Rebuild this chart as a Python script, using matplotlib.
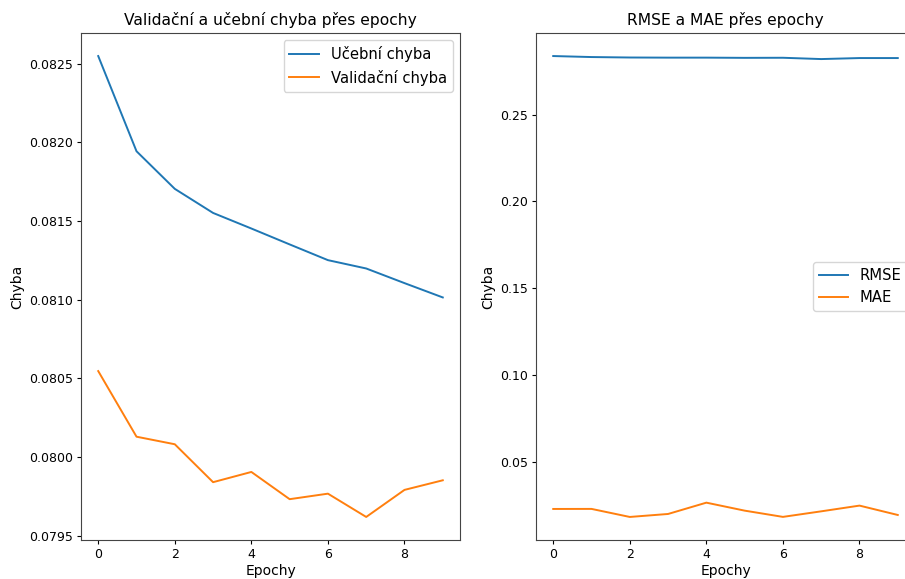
import numpy as np
from matplotlib import pyplot as plt

epochy = np.arange(10)

ucebni_chyba = [0.082548, 0.081943, 0.081704, 0.081551, 0.081452,
                0.081351, 0.081251, 0.081198, 0.081105, 0.081014]
validacni_chyba = [0.080546, 0.080129, 0.080081, 0.079840, 0.079905,
                   0.079732, 0.079767, 0.079619, 0.079791, 0.079852]

rmse = [0.28374, 0.28316, 0.28290, 0.28282, 0.28282,
        0.28270, 0.28275, 0.28200, 0.28258, 0.28258]
mae = [0.02277, 0.02280, 0.01816, 0.01988, 0.02640,
       0.02180, 0.01820, 0.02140, 0.02470, 0.01930]

W, H = 905, 579
fig = plt.figure(figsize=(W / 100, H / 100), dpi=100)

# osy rucne, prava je oriznuta na okraji obrazku
ax1 = fig.add_axes([81 / W, (H - 540) / H, 379 / W, 507 / H])
ax2 = fig.add_axes([536 / W, (H - 540) / H, 379 / W, 507 / H])

title_fs = 11.2
label_fs = 10
tick_fs = 9
legend_fs = 10.6

for ax in (ax1, ax2):
    ax.tick_params(labelsize=tick_fs, length=3, pad=3)
    for s in ax.spines.values():
        s.set_color('#444444')

ax1.plot(epochy, ucebni_chyba, label='Učební chyba', lw=1.4)
ax1.plot(epochy, validacni_chyba, label='Validační chyba', lw=1.4)
ax1.set_title('Validační a učební chyba přes epochy', fontsize=title_fs)
ax1.set_xlabel('Epochy', fontsize=label_fs, labelpad=2)
ax1.set_ylabel('Chyba', fontsize=label_fs, labelpad=3)
ax1.legend(fontsize=legend_fs, loc='upper right')

ax2.plot(epochy, rmse, label='RMSE', lw=1.4)
ax2.plot(epochy, mae, label='MAE', lw=1.4)
ax2.set_title('RMSE a MAE přes epochy', fontsize=title_fs)
ax2.set_xlabel('Epochy', fontsize=label_fs, labelpad=2)
ax2.set_ylabel('Chyba', fontsize=label_fs, labelpad=3)
ax2.legend(fontsize=legend_fs, loc='center right')

fig.savefig('out.png', dpi=100)
